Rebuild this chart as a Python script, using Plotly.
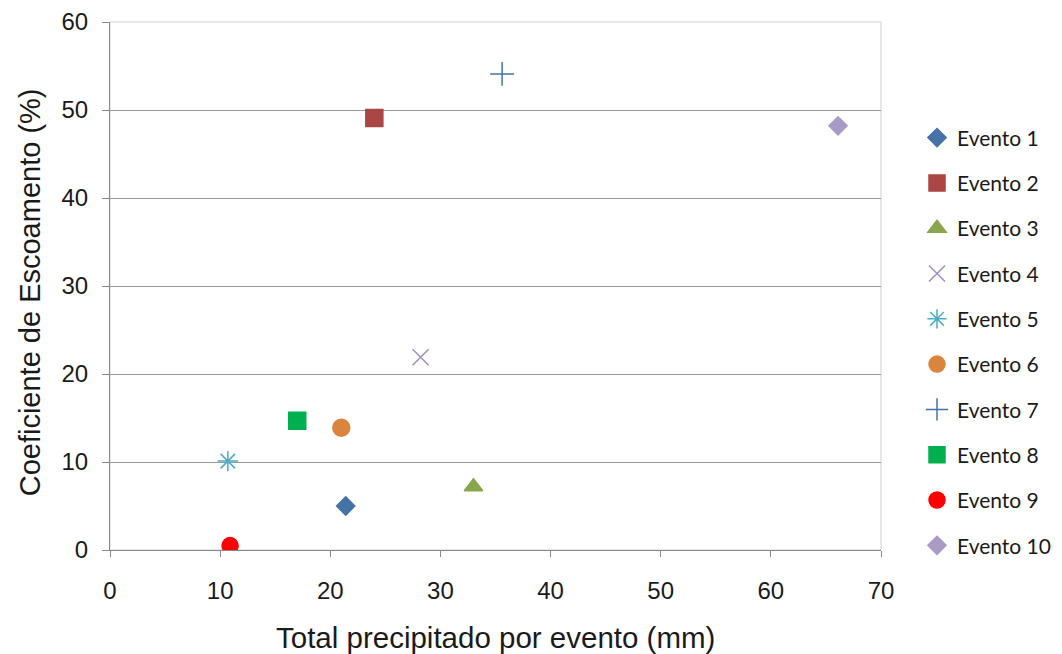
import plotly.graph_objects as go

names = ["Evento 1", "Evento 2", "Evento 3", "Evento 4", "Evento 5",
         "Evento 6", "Evento 7", "Evento 8", "Evento 9", "Evento 10"]
precip = [21.4, 24.0, 33.0, 28.2, 10.7, 21.0, 35.6, 17.0, 10.9, 66.1]
coef = [5.0, 49.1, 7.2, 21.9, 10.1, 13.9, 54.1, 14.7, 0.5, 48.2]
x_ticks = [0, 10, 20, 30, 40, 50, 60, 70]
y_ticks = [0, 10, 20, 30, 40, 50, 60]

colors = ["#4572A7", "#AA4643", "#89A54E", "#9E8EC0", "#4BACC6",
          "#DB843D", "#4572A7", "#00B050", "#FF0000", "#A99BC6"]
symbols = ["diamond", "square", "triangle-up", "x-thin-open", "asterisk-open",
           "circle", "cross-thin-open", "square", "circle", "diamond"]
sizes = [14, 17, 16, 16, 17, 17, 17, 17, 16, 14]

fig = go.Figure()
for i in range(len(names)):
    fig.add_trace(go.Scatter(
        x=[precip[i]], y=[coef[i]], mode="markers", name=names[i],
        legendgroup=names[i],
        marker=dict(symbol=symbols[i], color=colors[i], size=sizes[i],
                    line=dict(color=colors[i], width=1.5)),
    ))

fig.update_layout(
    width=1054, height=646,
    paper_bgcolor="white", plot_bgcolor="white",
    margin=dict(l=102, r=181, t=14, b=104, autoexpand=False),
    font=dict(family="Liberation Sans, Arial", color="#1a1a1a"),
    showlegend=True,
    legend=dict(x=1.0467, y=0.394, xanchor="left", yanchor="middle",
                font=dict(family="Lato, Open Sans", size=21, color="#1a1a1a"),
                tracegroupgap=15, itemwidth=30),
    xaxis=dict(range=[0, 70], tickvals=x_ticks, showgrid=False,
               showline=True, linecolor="#888888", linewidth=1,
               ticks="outside", ticklen=6, tickcolor="#888888",
               tickfont=dict(size=24), zeroline=False, automargin=False,
               ticklabelstandoff=13),
    yaxis=dict(range=[0, 60], tickvals=y_ticks, showgrid=True,
               gridcolor="#9a9a9a", gridwidth=1,
               showline=True, linecolor="#888888", linewidth=1,
               ticks="outside", ticklen=7, tickcolor="#888888",
               tickfont=dict(size=24), zeroline=False, automargin=False,
               ticklabelstandoff=9),
    annotations=[
        dict(text="Total precipitado por evento (mm)", xref="paper", yref="paper",
             x=0.5006, y=-0.165, xanchor="center", yanchor="middle",
             showarrow=False, font=dict(size=29.5, color="#1a1a1a")),
        dict(text="Coeficiente de Escoamento (%)", xref="paper", yref="paper",
             x=-0.1038, y=0.488, xanchor="center", yanchor="middle", textangle=-90,
             showarrow=False, font=dict(size=29, color="#1a1a1a")),
    ],
)
fig.add_shape(type="rect", xref="paper", yref="paper", x0=0, y0=0, x1=1, y1=1,
              line=dict(color="#d0d0d0", width=1), layer="below")

fig.write_html("out.html")
